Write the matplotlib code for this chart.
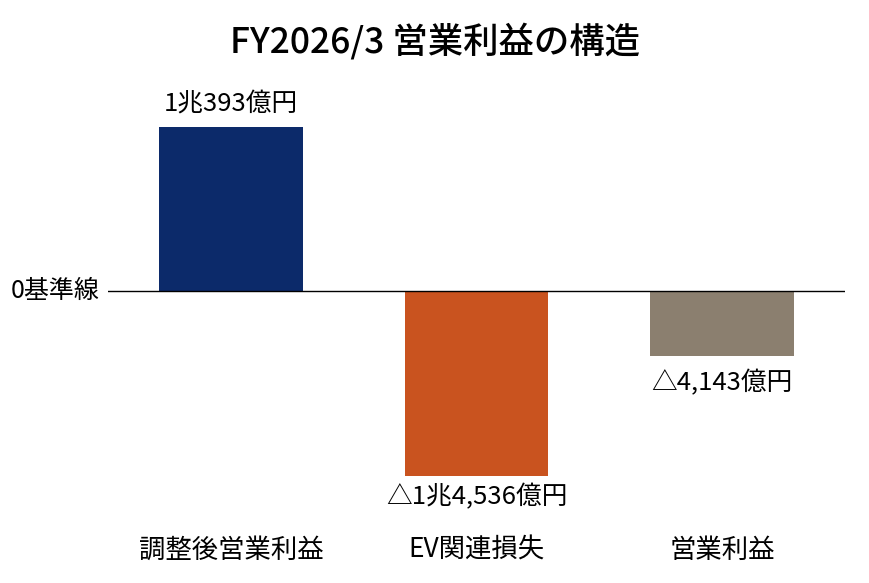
import matplotlib
matplotlib.use('Agg')
import matplotlib.pyplot as plt

plt.rcParams['font.family'] = ['Noto Sans CJK JP', 'DejaVu Sans']

# data (億円)
categories = ['調整後営業利益', 'EV関連損失', '営業利益']
values = [10393, -14536, -4143]
value_labels = ['1兆393億円', '△1兆4,536億円', '△4,143億円']
colors = ['#0c2a6a', '#c9531f', '#8b7f6f']

fig = plt.figure(figsize=(8.7, 5.83), dpi=100)
# axes placed in pixels: x 108..845, y 100..476 (from top)
ax = fig.add_axes([108 / 870, (583 - 476) / 583, 737 / 870, 376 / 583])

x = range(len(categories))
ax.bar(x, values, width=0.585, color=colors, zorder=2)

# bottom limit cuts the long negative bar, as in the original
ax.set_ylim(-11720, 12100)
ax.set_xlim(-0.5, 2.5)
ax.axhline(0, color='black', linewidth=1, zorder=3)
ax.axis('off')

ymin = ax.get_ylim()[0]
for i, (v, lab) in enumerate(zip(values, value_labels)):
    if v >= 0:
        ax.annotate(lab, (i, v), xytext=(0, 17), textcoords='offset points',
                    ha='center', va='center', fontsize=18.5)
    else:
        end = max(v, ymin)
        off = -15 if v < ymin else -19
        ax.annotate(lab, (i, end), xytext=(0, off), textcoords='offset points',
                    ha='center', va='center', fontsize=18.5, annotation_clip=False)

tr = ax.get_xaxis_transform()
for i, c in enumerate(categories):
    ax.text(i, -0.197, c, transform=tr, ha='center', va='center', fontsize=19)

ax.text(-0.011, 0, '0基準線', transform=ax.get_yaxis_transform(),
        ha='right', va='center', fontsize=18)

fig.text(0.5, 1 - 42 / 583, 'FY2026/3 営業利益の構造', ha='center', va='center',
         fontsize=25.5, fontweight='medium')

fig.savefig('out.png', dpi=100, facecolor='white')
